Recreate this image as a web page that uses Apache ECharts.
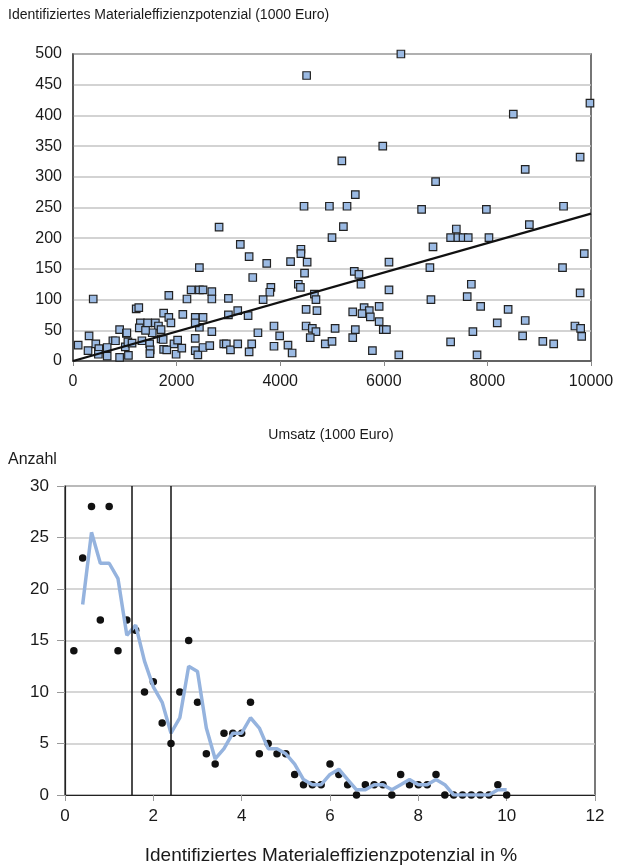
<!DOCTYPE html>
<html>
<head>
<meta charset="utf-8">
<script src="https://cdn.jsdelivr.net/npm/echarts@6/dist/echarts.min.js"></script>
<style>
html,body{margin:0;padding:0;background:#fff;}
#chart{width:622px;height:867px;}
</style>
</head>
<body>
<div id="chart"></div>
<script>
// ---- Top chart: Umsatz vs. identifiziertes Materialeffizienzpotenzial (1000 Euro)
const umsatz = [
  2820,3230,2440,2280,2440,2510,2680,2680,3000,1850,2200,390,1220,1270,1750,1850,1890,2120,2360,2510,
  2440,2680,3000,3180,1300,1440,1590,1650,1700,1530,1280,900,1030,770,820,310,100,290,490,440,
  500,660,660,900,1010,1060,1140,1070,1330,1480,1490,1485,1700,1750,1950,2020,1990,2100,2360,2360,
  2410,2510,2640,2910,2960,3040,3180,490,1400,1740,1810,2360,1040,
  6330,4510,5980,5190,5450,4460,4950,5290,5220,5000,3400,4400,4400,3740,4200,4520,6100,4470,3470,5430,
  5520,5560,4350,4390,3820,3800,3670,4660,4690,6100,3380,4500,4710,5400,5620,5720,5580,5740,5910,5910,
  5990,6050,3880,3990,3570,4500,4620,4690,4580,5060,5450,5400,4870,5000,3450,3400,3880,4150,4230,5780,
  6290,
  9980,8500,9790,8730,7000,6730,7980,9470,7400,7290,7430,7530,7630,8030,8810,6950,9870,6890,9450,7690,
  7610,6910,9790,7870,8400,8190,8730,7720,8680,9070,9280,7290,9690,9800,9820,7800
];
const potenzial = [
  218,190,152,116,116,116,113,101,102,107,101,101,85,87,78,71,62,76,71,71,
  55,48,75,82,62,62,62,57,51,46,54,51,45,33,33,41,26,17,18,28,
  20,22,8,6,23,31,29,9,33,28,18,12,36,19,28,34,11,21,37,17,
  10,22,25,28,28,18,28,11,50,35,18,62,46,
  500,465,350,326,271,252,252,252,219,201,170,182,175,159,162,161,161,143,136,146,
  141,125,125,120,120,112,100,109,100,116,74,84,82,80,87,82,77,72,89,64,
  51,51,57,41,46,57,53,48,38,53,51,38,28,32,28,15,24,26,13,17,
  10,
  420,402,332,312,292,247,247,252,215,201,201,201,201,201,222,186,175,152,152,125,
  105,100,111,89,84,62,66,48,41,32,28,31,57,53,40,10
];
const trendX = [0, 10000];
const trendY = [0, 240];
const xTicksTop = [0, 2000, 4000, 6000, 8000, 10000];
const yTicksTop = [0, 50, 100, 150, 200, 250, 300, 350, 400, 450, 500];

// ---- Bottom chart: Anzahl vs. identifiziertes Materialeffizienzpotenzial in %
const anteil = [0.2,0.4,0.6,0.8,1.0,1.2,1.4,1.6,1.8,2.0,2.2,2.4,2.6,2.8,3.0,3.2,3.4,3.6,3.8,4.0,
  4.2,4.4,4.6,4.8,5.0,5.2,5.4,5.6,5.8,6.0,6.2,6.4,6.6,6.8,7.0,7.2,7.4,7.6,7.8,8.0,
  8.2,8.4,8.6,8.8,9.0,9.2,9.4,9.6,9.8,10.0];
const anzahl = [14,23,28,17,28,14,17,16,10,11,7,5,10,15,9,4,3,6,6,6,
  9,4,5,4,4,2,1,1,1,3,2,1,0,1,1,1,0,2,1,1,
  1,2,0,0,0,0,0,0,1,0];
const glattX = [0.4,0.6,0.8,1.0,1.2,1.4,1.6,1.8,2.0,2.2,2.4,2.6,2.8,3.0,3.2,3.4,3.6,3.8,4.0,
  4.2,4.4,4.6,4.8,5.0,5.2,5.4,5.6,5.8,6.0,6.2,6.4,6.6,6.8,7.0,7.2,7.4,7.6,7.8,8.0,
  8.2,8.4,8.6,8.8,9.0,9.2,9.4,9.6,9.8,10.0];
const glattY = [18.5,25.5,22.5,22.5,21,15.5,16.5,13,10.5,9,6,7.5,12.5,12,6.5,3.5,4.5,6,6,
  7.5,6.5,4.5,4.5,4,3,1.5,1,1,2,2.5,1.5,0.5,0.5,1,1,0.5,1,1.5,1,
  1,1.5,1,0,0,0,0,0,0.5,0.5];
const grenzen = [1.5, 2.4];
const xTicksBottom = [0, 2, 4, 6, 8, 10, 12];
const yTicksBottom = [0, 5, 10, 15, 20, 25, 30];

const texts = {
  titleTop: 'Identifiziertes Materialeffizienzpotenzial (1000 Euro)',
  xNameTop: 'Umsatz (1000 Euro)',
  yNameBottom: 'Anzahl',
  xNameBottom: 'Identifiziertes Materialeffizienzpotenzial in %'
};

const FONT = "'Liberation Sans', Arial, Helvetica, sans-serif";
const chart = echarts.init(document.getElementById('chart'), null, {renderer: 'canvas'});

const scatterData = umsatz.map((x, i) => [x, potenzial[i]]);
const trendData = trendX.map((x, i) => [x, trendY[i]]);
const dotData = anteil.map((x, i) => [x, anzahl[i]]);
const glattData = glattX.map((x, i) => [x, glattY[i]]);
const plain = v => String(v);

const option = {
  backgroundColor: '#fff',
  animation: false,
  textStyle: {fontFamily: FONT},
  grid: [
    {left: 73, top: 54, width: 518, height: 307, show: true, borderColor: '#4a4a4a', borderWidth: 1.5, backgroundColor: 'transparent'},
    {left: 65, top: 486, width: 530, height: 309, show: true, borderColor: '#222', borderWidth: 1.2, backgroundColor: 'transparent'}
  ],
  xAxis: [
    {gridIndex: 0, type: 'value', min: xTicksTop[0], max: xTicksTop[xTicksTop.length-1], interval: 2000,
     axisLine: {show: true, lineStyle: {color: '#4a4a4a', width: 1.5}},
     axisTick: {show: true, length: 5, lineStyle: {color: '#888'}},
     splitLine: {show: false},
     axisLabel: {fontSize: 16, color: '#1a1a1a', margin: 13, fontFamily: FONT, formatter: plain}},
    {gridIndex: 1, type: 'value', min: xTicksBottom[0], max: xTicksBottom[xTicksBottom.length-1], interval: 2,
     axisLine: {show: true, lineStyle: {color: '#222', width: 1.2}},
     axisTick: {show: true, length: 6, lineStyle: {color: '#999'}},
     splitLine: {show: false},
     axisLabel: {fontSize: 17, color: '#1a1a1a', margin: 13, fontFamily: FONT, formatter: plain}}
  ],
  yAxis: [
    {gridIndex: 0, type: 'value', min: yTicksTop[0], max: yTicksTop[yTicksTop.length-1], interval: 50,
     axisLine: {show: true, lineStyle: {color: '#4a4a4a', width: 1.5}},
     axisTick: {show: false},
     splitLine: {show: true, lineStyle: {color: '#c4c4c4', width: 1.5}},
     axisLabel: {fontSize: 16, color: '#1a1a1a', margin: 11, fontFamily: FONT, formatter: plain}},
    {gridIndex: 1, type: 'value', min: yTicksBottom[0], max: yTicksBottom[yTicksBottom.length-1], interval: 5,
     axisLine: {show: true, lineStyle: {color: '#222', width: 1.2}},
     axisTick: {show: true, length: 8, lineStyle: {color: '#999'}},
     splitLine: {show: true, lineStyle: {color: '#c8c8c8', width: 1.5}},
     axisLabel: {fontSize: 17, color: '#1a1a1a', margin: 16, fontFamily: FONT, formatter: plain}}
  ],
  series: [
    {type: 'scatter', xAxisIndex: 0, yAxisIndex: 0, data: scatterData, symbol: 'rect', symbolSize: 7.5,
     itemStyle: {color: '#9bbae3', borderColor: '#222', borderWidth: 1.2, opacity: 1}, z: 2},
    {type: 'line', xAxisIndex: 0, yAxisIndex: 0, data: trendData, symbol: 'none',
     lineStyle: {color: '#111', width: 2.2}, z: 3},
    {type: 'scatter', xAxisIndex: 1, yAxisIndex: 1, data: dotData, symbol: 'circle', symbolSize: 7.5,
     itemStyle: {color: '#111', opacity: 1}, z: 2,
     markLine: {silent: true, symbol: 'none', label: {show: false},
       lineStyle: {color: '#111', width: 1.5, type: 'solid'},
       data: grenzen.map(v => ({xAxis: v}))}},
    {type: 'line', xAxisIndex: 1, yAxisIndex: 1, data: glattData, symbol: 'none',
     lineStyle: {color: '#95b3de', width: 3.5}, z: 3}
  ],
  graphic: [
    {type: 'text', left: 8, top: 8, style: {text: texts.titleTop, font: '14px ' + FONT, fill: '#1a1a1a'}},
    {type: 'text', x: 331, y: 435, style: {text: texts.xNameTop, font: '14px ' + FONT, fill: '#1a1a1a', textAlign: 'center', textVerticalAlign: 'middle'}},
    {type: 'text', left: 8, top: 452, style: {text: texts.yNameBottom, font: '16px ' + FONT, fill: '#1a1a1a'}},
    {type: 'text', x: 331, y: 856, style: {text: texts.xNameBottom, font: '19px ' + FONT, fill: '#1a1a1a', textAlign: 'center', textVerticalAlign: 'middle'}}
  ]
};
chart.setOption(option);
</script>
</body>
</html>
